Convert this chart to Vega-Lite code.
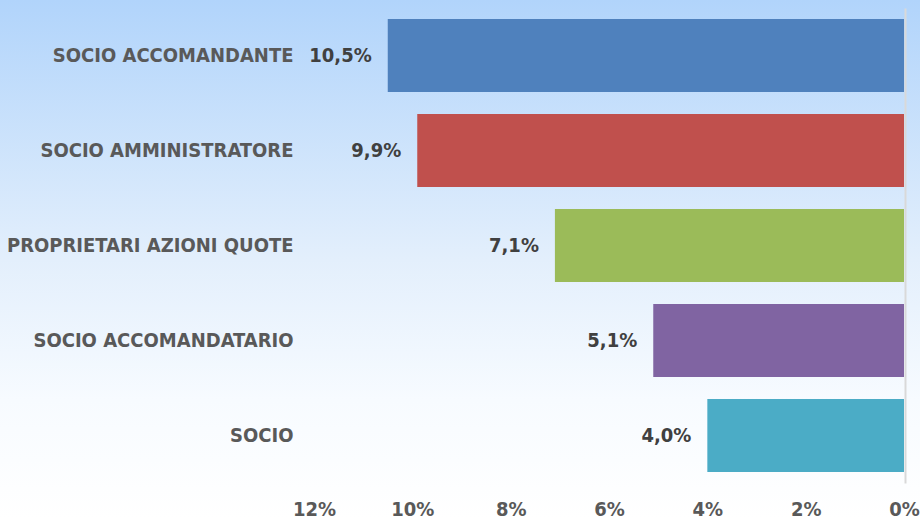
{
  "$schema": "https://vega.github.io/schema/vega-lite/v6.json",
  "width": 920,
  "height": 519,
  "autosize": {"type": "none"},
  "padding": 0,
  "background": "#ffffff",
  "config": {
    "locale": {"number": {"decimal": ",", "thousands": ".", "grouping": [3], "currency": ["", " €"]}},
    "view": {
      "stroke": null,
      "fill": {"gradient": "linear", "x1": 0, "y1": 0, "x2": 0, "y2": 1,
        "stops": [
          {"offset": 0, "color": "#b1d4fb"},
          {"offset": 0.5, "color": "#e3effc"},
          {"offset": 0.77, "color": "#f7fbff"},
          {"offset": 1, "color": "#ffffff"}
        ]}
    },
    "axis": {"labelFont": "DejaVu Sans Condensed", "labelFontWeight": "bold", "labelColor": "#595959", "grid": false, "title": null}
  },
  "data": {"values": [
    {"ruolo": "SOCIO ACCOMANDANTE", "quota": 0.105},
    {"ruolo": "SOCIO AMMINISTRATORE", "quota": 0.099},
    {"ruolo": "PROPRIETARI AZIONI QUOTE", "quota": 0.071},
    {"ruolo": "SOCIO ACCOMANDATARIO", "quota": 0.051},
    {"ruolo": "SOCIO", "quota": 0.040}
  ]},
  "encoding": {
    "y": {"field": "ruolo", "type": "nominal", "sort": null,
      "scale": {"range": [8, 483], "paddingInner": 0.23, "paddingOuter": 0.115}},
    "x": {"field": "quota", "type": "quantitative",
      "scale": {"domain": [0, 0.12], "range": [904, 314], "nice": false, "zero": true}}
  },
  "layer": [
    {
      "mark": {"type": "bar"},
      "encoding": {
        "color": {"field": "ruolo", "type": "nominal", "sort": null, "legend": null,
          "scale": {"range": ["#4f81bd", "#c0504d", "#9bbb59", "#8064a2", "#4bacc6"]}},
        "x": {"field": "quota", "type": "quantitative",
          "axis": {"orient": "bottom", "values": [0, 0.02, 0.04, 0.06, 0.08, 0.1, 0.12], "format": ".0%",
            "domain": false, "ticks": false, "tickSize": 0, "labelPadding": 0, "offset": -10,
            "labelBaseline": "middle", "labelFontSize": 20, "labelFlush": false, "labelOverlap": false}},
        "y": {"field": "ruolo", "type": "nominal", "sort": null,
          "axis": {"orient": "left", "domain": false, "ticks": false, "tickSize": 0, "labelPadding": 0,
            "offset": -293, "labelFontSize": 20, "labelLimit": 400}}
      }
    },
    {
      "mark": {"type": "text", "align": "right", "baseline": "middle", "dx": -16, "fontSize": 20,
        "fontWeight": "bold", "font": "DejaVu Sans Condensed", "color": "#404040"},
      "encoding": {
        "text": {"field": "quota", "type": "quantitative", "format": ".1%"},
        "y": {"field": "ruolo", "type": "nominal", "sort": null,
          "axis": {"orient": "right", "labels": false, "ticks": false, "domain": true,
            "domainColor": "#d9d9d9", "domainWidth": 2, "offset": -15}}
      }
    }
  ],
  "resolve": {"axis": {"y": "independent"}}
}
